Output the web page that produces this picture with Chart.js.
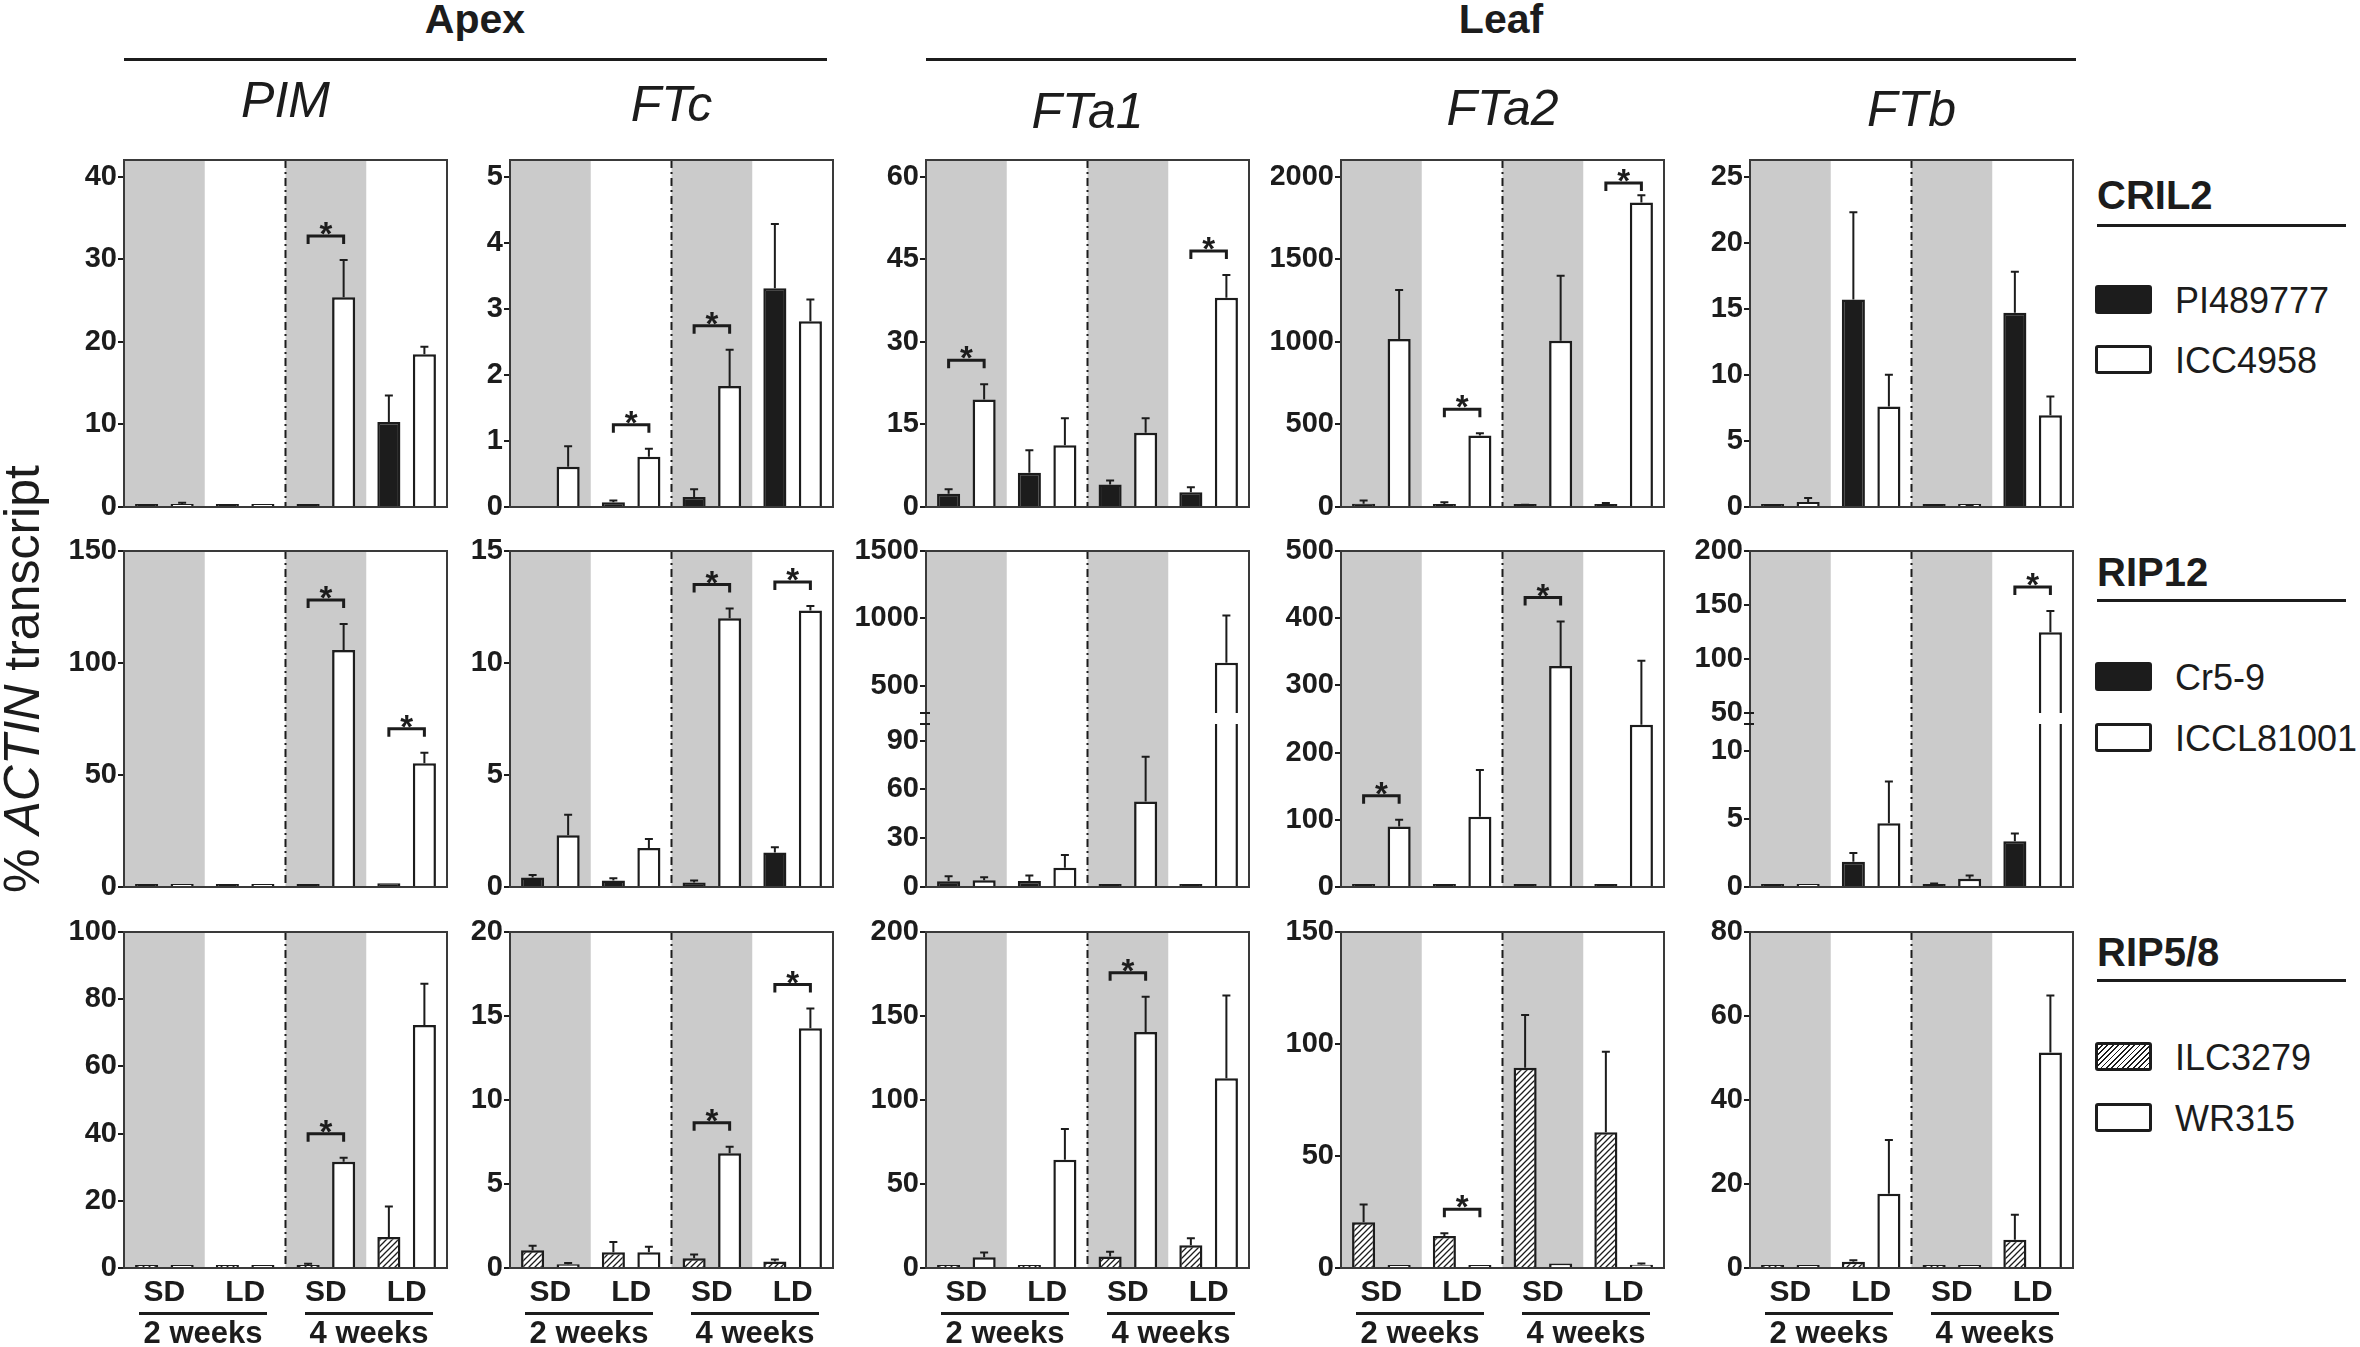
<!DOCTYPE html>
<html>
<head>
<meta charset="utf-8">
<script src="https://cdn.jsdelivr.net/npm/chart.js@4.4.1/dist/chart.umd.min.js"></script>
<style>
  html, body { margin: 0; padding: 0; background: #fff; }
  #fig { position: relative; width: 2360px; height: 1347px; overflow: hidden; background: #fff;
         font-family: 'Liberation Sans', Arial, sans-serif; color: #1c1c1c; }
  #fig canvas { position: absolute; }
  .t { position: absolute; white-space: nowrap; line-height: 1; }
  .rule { position: absolute; height: 3px; background: #1c1c1c; }
  .key { position: absolute; box-sizing: border-box; border: 3px solid #1c1c1c; border-radius: 3px; }
</style>
</head>
<body>
<div id="fig"></div>
<script>
// ---- data ----
const groupLabels = ['SD', 'LD', 'SD', 'LD'];
const weekLabels = ['2 weeks', '4 weeks'];
const tissues = ['Apex', 'Leaf'];
const genes = ['PIM', 'FTc', 'FTa1', 'FTa2', 'FTb'];
const lines = ['CRIL2', 'RIP12', 'RIP5/8'];
const seriesNames = [['PI489777', 'ICC4958'], ['Cr5-9', 'ICCL81001'], ['ILC3279', 'WR315']];

// CRIL2 (per gene: SD 2w, LD 2w, SD 4w, LD 4w)
const cril2Dark     = [[0.1, 0.1, 0.2, 10.3], [null, 0.07, 0.15, 3.31], [2.4, 6.2, 4.1, 2.7], [20, 16, 10, 14], [0.05, 15.7, 0.1, 14.7]];
const cril2DarkSem  = [[0, 0, 0, 3.2], [0, 0.03, 0.12, 0.97], [0.8, 4.1, 0.7, 0.9], [19, 13, 4, 10], [0, 6.6, 0.05, 3.1]];
const cril2Open     = [[0.3, 0.1, 25.4, 18.5], [0.61, 0.76, 1.83, 2.81], [19.5, 11.2, 13.5, 38.0], [1016, 432, 1006, 1843], [0.38, 7.6, 0.1, 6.95]];
const cril2OpenSem  = [[0.2, 0, 4.5, 0.9], [0.31, 0.12, 0.55, 0.33], [2.8, 4.9, 2.6, 4.1], [298, 14, 393, 43], [0.31, 2.4, 0.05, 1.4]];
const cril2Sig      = [[0, 0, 1, 0], [0, 1, 1, 0], [1, 0, 0, 1], [0, 1, 0, 1], [0, 0, 0, 0]];
const cril2Ticks    = [[0, 10, 20, 30, 40], [0, 1, 2, 3, 4, 5], [0, 15, 30, 45, 60], [0, 500, 1000, 1500, 2000], [0, 5, 10, 15, 20, 25]];
const cril2Max      = [42, 5.25, 63, 2100, 26.25];

// RIP12
const rip12Dark     = [[0.1, 0.1, 0.2, 1.7], [0.42, 0.29, 0.2, 1.54], [3.5, 3.7, 0.5, 0.8], [0.5, 0.5, 0.5, 1], [0.12, 1.87, 0.22, 3.37]];
const rip12DarkSem  = [[0, 0, 0, 0], [0.12, 0.1, 0.09, 0.24], [3.1, 3.3, 0, 0], [0, 0, 0, 0], [0.03, 0.63, 0.03, 0.58]];
const rip12Open     = [[0.1, 0.1, 105.8, 55.2], [2.31, 1.74, 12.0, 12.34], [4.1, 11.8, 52.6, 670], [90, 104.6, 329, 241.5], [0.1, 4.7, 0.6, 124.5]];
const rip12OpenSem  = [[0, 0, 11.6, 4.7], [0.92, 0.4, 0.43, 0.2], [1.9, 7.9, 27.5, 352], [10, 69.4, 66, 95], [0, 3.08, 0.25, 19.7]];
const rip12Sig      = [[0, 0, 1, 1], [0, 0, 1, 1], [0, 0, 0, 0], [1, 0, 1, 0], [0, 0, 0, 1]];
const rip12Ticks    = [[0, 50, 100, 150], [0, 5, 10, 15], [0, 30, 60, 90, 500, 1000, 1500], [0, 100, 200, 300, 400, 500], [0, 5, 10, 50, 100, 150, 200]];
const rip12Max      = [150, 15, 1500, 500, 200];
const rip12Breaks   = [null, null, [100, 300], null, [12, 50]];

// RIP5/8
const rip58Dark     = [[0.1, 0.2, 0.8, 9.2], [1.05, 0.94, 0.58, 0.38], [0.3, 0.3, 6.8, 13.5], [20.4, 14.3, 89.4, 60.6], [0.05, 1.5, 0.4, 6.75]];
const rip58DarkSem  = [[0, 0, 0.5, 9.1], [0.28, 0.61, 0.22, 0.12], [0, 0, 2.8, 4.2], [7.9, 1.2, 23.6, 35.9], [0, 0.35, 0, 5.95]];
const rip58Open     = [[0.1, 0.1, 31.6, 72.3], [0.22, 0.94, 6.83, 14.27], [6.4, 64.5, 140.5, 113], [0.6, 0.3, 2.0, 1.5], [0.05, 17.7, 0.4, 51.3]];
const rip58OpenSem  = [[0, 0, 1.2, 12.3], [0.08, 0.33, 0.39, 1.17], [2.8, 18.3, 20.9, 49.2], [0, 0, 0, 0.5], [0, 12.8, 0, 13.6]];
const rip58Sig      = [[0, 0, 1, 0], [0, 0, 1, 1], [0, 0, 1, 0], [0, 1, 0, 0], [0, 0, 0, 0]];
const rip58Ticks    = [[0, 20, 40, 60, 80, 100], [0, 5, 10, 15, 20], [0, 50, 100, 150, 200], [0, 50, 100, 150], [0, 20, 40, 60, 80]];
const rip58Max      = [100, 20, 200, 150, 80];

// ---- layout ----
const INK = '#1c1c1c', SHADE = '#cbcbcb', FRAME = '#3a3a3a';
const FONT = "'Liberation Sans', Arial, sans-serif";
const plotLefts = [124, 510, 926, 1341, 1750];
const plotW = 323;
const rowTops = [160, 551, 932];
const rowBottoms = [507, 887, 1268];
const titleBaselines = [117, 121, 128, 125, 126];
const AXIS_W = 70, PAD_V = 20, PAD_R = 10;
const BRK_LOW = 0.484, BRK_GAP = 0.035;

const fig = document.getElementById('fig');

function addText(html, x, baseline, size, opts) {
    opts = opts || {};
    const d = document.createElement('div');
    d.className = 't';
    d.innerHTML = html;
    d.style.fontSize = size + 'px';
    d.style.fontWeight = opts.bold ? 'bold' : 'normal';
    if (opts.italic) d.style.fontStyle = 'italic';
    d.style.left = x + 'px';
    d.style.top = (baseline - 0.847 * size) + 'px';
    if (opts.center) d.style.transform = 'translateX(-50%)';
    fig.appendChild(d);
    return d;
}

function addRule(x0, x1, y) {
    const d = document.createElement('div');
    d.className = 'rule';
    d.style.left = x0 + 'px';
    d.style.width = (x1 - x0) + 'px';
    d.style.top = (y - 1.5) + 'px';
    fig.appendChild(d);
}

function makeHatch() {
    const c = document.createElement('canvas');
    c.width = c.height = 6;
    const g = c.getContext('2d');
    g.fillStyle = '#fff';
    g.fillRect(0, 0, 6, 6);
    g.strokeStyle = INK;
    g.lineWidth = 1.3;
    g.beginPath();
    g.moveTo(0, 6); g.lineTo(6, 0);
    g.moveTo(-1, 1); g.lineTo(1, -1);
    g.moveTo(5, 7); g.lineTo(7, 5);
    g.stroke();
    return g.createPattern(c, 'repeat');
}

// linear scale with a gap between a low and a high segment
const breakOf = new Map();
class BrokenScale extends Chart.LinearScale {
    _dec(v) {
        const [lo, hi] = breakOf.get(this.chart.canvas);
        if (v <= lo) return (v - this.min) / (lo - this.min) * BRK_LOW;
        if (v >= hi) return BRK_LOW + BRK_GAP + (v - hi) / (this.max - hi) * (1 - BRK_LOW - BRK_GAP);
        return BRK_LOW + (v - lo) / (hi - lo) * BRK_GAP;
    }
    getPixelForValue(value) {
        if (value === null || value === undefined || isNaN(value)) return NaN;
        return this.getPixelForDecimal(this._dec(+value));
    }
    getValueForPixel(pixel) {
        const [lo, hi] = breakOf.get(this.chart.canvas);
        const d = this.getDecimalForPixel(pixel);
        if (d <= BRK_LOW) return this.min + d / BRK_LOW * (lo - this.min);
        if (d >= BRK_LOW + BRK_GAP) return hi + (d - BRK_LOW - BRK_GAP) / (1 - BRK_LOW - BRK_GAP) * (this.max - hi);
        return lo + (d - BRK_LOW) / BRK_GAP * (hi - lo);
    }
}
BrokenScale.id = 'broken';
BrokenScale.defaults = Chart.LinearScale.defaults;
Chart.register(BrokenScale);

function drawBackdrop(chart, y0, y1) {
    const { ctx, chartArea: a } = chart;
    const x = chart.scales.x;
    const half = a.width / groupLabels.length / 2;
    y0 = Math.round(y0);
    y1 = Math.round(y1);
    ctx.save();
    ctx.fillStyle = '#fff';
    ctx.fillRect(a.left, y0, a.width, y1 - y0);
    ctx.fillStyle = SHADE;
    groupLabels.forEach((g, i) => {
        if (g !== 'SD') return;
        const cx = x.getPixelForValue(i);
        ctx.fillRect(cx - half, y0, half * 2, y1 - y0);
    });
    const mx = x.getPixelForValue(1.5);
    ctx.strokeStyle = INK;
    ctx.lineWidth = 2;
    ctx.setLineDash([8, 4, 2, 4]);
    ctx.lineDashOffset = y0 - a.top;
    ctx.beginPath();
    ctx.moveTo(mx, y0);
    ctx.lineTo(mx, y1);
    ctx.stroke();
    ctx.restore();
}

function panelPlugin(p) {
    return {
        id: 'panel',
        beforeDatasetsDraw(chart) {
            drawBackdrop(chart, chart.chartArea.top, chart.chartArea.bottom);
        },
        afterDatasetsDraw(chart) {
            const { ctx, chartArea: a } = chart;
            const y = chart.scales.y;
            const brk = breakOf.get(chart.canvas);
            let yHi, yLo;
            if (brk) {
                yHi = Math.round(y.getPixelForValue(brk[1]));
                yLo = Math.round(y.getPixelForValue(brk[0]));
                drawBackdrop(chart, yHi, yLo);
            }
            // error bars (upward only)
            ctx.save();
            ctx.strokeStyle = INK;
            ctx.lineWidth = 2;
            chart.data.datasets.forEach((ds, i) => {
                chart.getDatasetMeta(i).data.forEach((bar, j) => {
                    const e = p.sems[i][j];
                    if (!e || ds.data[j] === null) return;
                    const top = y.getPixelForValue(ds.data[j] + e);
                    ctx.beginPath();
                    ctx.moveTo(bar.x, bar.y);
                    ctx.lineTo(bar.x, top);
                    ctx.moveTo(bar.x - 4, top);
                    ctx.lineTo(bar.x + 4, top);
                    ctx.stroke();
                });
            });
            // frame
            ctx.strokeStyle = FRAME;
            ctx.lineWidth = 2;
            ctx.strokeRect(a.left, a.top, a.width, a.height);
            if (brk) {
                ctx.strokeStyle = INK;
                ctx.beginPath();
                [yHi, yLo].forEach(v => { ctx.moveTo(a.left - 6, v); ctx.lineTo(a.left + 4, v); });
                ctx.stroke();
            }
            // significance brackets
            ctx.strokeStyle = INK;
            ctx.fillStyle = INK;
            ctx.lineWidth = 3;
            ctx.font = 'bold 33px ' + FONT;
            ctx.textAlign = 'center';
            ctx.textBaseline = 'alphabetic';
            p.sig.forEach((s, j) => {
                if (!s) return;
                const xs = [0, 1].map(i => chart.getDatasetMeta(i).data[j].x);
                const tops = [0, 1].map(i => y.getPixelForValue((chart.data.datasets[i].data[j] || 0) + (p.sems[i][j] || 0)));
                const yl = Math.max(Math.min(...tops) - 24, a.top + 23);
                ctx.beginPath();
                ctx.moveTo(xs[0], yl + 8);
                ctx.lineTo(xs[0], yl);
                ctx.lineTo(xs[1], yl);
                ctx.lineTo(xs[1], yl + 8);
                ctx.stroke();
                ctx.fillText('*', (xs[0] + xs[1]) / 2, yl + 9);
            });
            ctx.restore();
        }
    };
}

const hatch = makeHatch();
const rows = [
    { dark: cril2Dark, darkSem: cril2DarkSem, open: cril2Open, openSem: cril2OpenSem, sig: cril2Sig, ticks: cril2Ticks, max: cril2Max, breaks: [], hatched: false },
    { dark: rip12Dark, darkSem: rip12DarkSem, open: rip12Open, openSem: rip12OpenSem, sig: rip12Sig, ticks: rip12Ticks, max: rip12Max, breaks: rip12Breaks, hatched: false },
    { dark: rip58Dark, darkSem: rip58DarkSem, open: rip58Open, openSem: rip58OpenSem, sig: rip58Sig, ticks: rip58Ticks, max: rip58Max, breaks: [], hatched: true }
];

rows.forEach((row, r) => {
    genes.forEach((gene, c) => {
        const plotH = rowBottoms[r] - rowTops[r];
        const cv = document.createElement('canvas');
        cv.width = AXIS_W + plotW + PAD_R;
        cv.height = plotH + 2 * PAD_V;
        cv.style.left = (plotLefts[c] - AXIS_W) + 'px';
        cv.style.top = (rowTops[r] - PAD_V) + 'px';
        fig.appendChild(cv);
        const brk = row.breaks[c];
        if (brk) breakOf.set(cv, brk);
        const ticks = row.ticks[c];

        new Chart(cv, {
            type: 'bar',
            data: {
                labels: groupLabels,
                datasets: [
                    { label: seriesNames[r][0], data: row.dark[c], backgroundColor: row.hatched ? hatch : INK, borderColor: INK, borderWidth: 2.5 },
                    { label: seriesNames[r][1], data: row.open[c], backgroundColor: '#fff', borderColor: INK, borderWidth: 2.5 }
                ]
            },
            options: {
                responsive: false,
                animation: false,
                devicePixelRatio: 1,
                layout: { padding: { left: 0, right: PAD_R, top: PAD_V, bottom: PAD_V } },
                datasets: { bar: { categoryPercentage: 0.88, barPercentage: 0.65, minBarLength: 3 } },
                plugins: { legend: { display: false }, tooltip: { enabled: false } },
                scales: {
                    x: { display: false },
                    y: {
                        type: brk ? 'broken' : 'linear',
                        min: 0,
                        max: row.max[c],
                        bounds: 'data',
                        afterBuildTicks: s => { s.ticks = ticks.map(v => ({ value: v })); },
                        afterFit: s => { s.width = AXIS_W; },
                        border: { display: false },
                        grid: { drawOnChartArea: false, drawTicks: true, tickLength: 6, lineWidth: 2, color: INK },
                        ticks: { autoSkip: false, padding: 1, color: INK, font: { family: FONT, size: 29, weight: 'bold' }, callback: v => String(v) }
                    }
                }
            },
            plugins: [panelPlugin({ sems: [row.darkSem[c], row.openSem[c]], sig: row.sig[c] })]
        });

        if (r === 0) addText(gene, plotLefts[c] + plotW / 2, titleBaselines[c], 50, { italic: true, center: true });
        if (r === rows.length - 1) {
            const gw = plotW / groupLabels.length;
            groupLabels.forEach((g, i) => addText(g, plotLefts[c] + gw * (i + 0.5), 1301, 30, { bold: true, center: true }));
            weekLabels.forEach((w, k) => {
                const x0 = plotLefts[c] + (k === 0 ? 15 : 181);
                addRule(x0, x0 + 128, 1313);
                addText(w, x0 + 64, 1343, 31, { bold: true, center: true });
            });
        }
    });
});

// tissue headers
addText(tissues[0], 475, 34, 41, { bold: true, center: true });
addRule(124, 827, 59);
addText(tissues[1], 1501, 34, 41, { bold: true, center: true });
addRule(926, 2076, 59);

// legends, one per genotype pair
const legendHeads = [209, 586, 966];
const legendRules = [225, 600, 980];
const keyTops = [[285, 345], [662, 723], [1042, 1103]];
lines.forEach((name, r) => {
    addText(name, 2097, legendHeads[r], 40, { bold: true });
    addRule(2097, 2346, legendRules[r]);
    seriesNames[r].forEach((s, k) => {
        const box = document.createElement('div');
        box.className = 'key';
        box.style.left = '2095px';
        box.style.top = keyTops[r][k] + 'px';
        box.style.width = '57px';
        box.style.height = '29px';
        if (k === 0) box.style.background = rows[r].hatched
            ? 'repeating-linear-gradient(135deg, #fff 0 2.5px, #1c1c1c 2.5px 3.8px)' : INK;
        else box.style.background = '#fff';
        fig.appendChild(box);
        addText(s, 2175, keyTops[r][k] + 28, 36);
    });
});

// shared y title
const yt = addText('% <i>ACTIN</i> transcript', 0, 0, 50);
yt.style.left = '22px';
yt.style.top = '679px';
yt.style.transform = 'translate(-50%, -50%) rotate(-90deg)';
</script>
</body>
</html>
